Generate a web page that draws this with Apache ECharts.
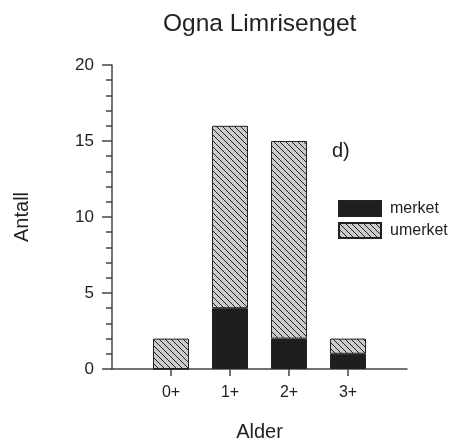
<!DOCTYPE html>
<html>
<head>
<meta charset="utf-8">
<script src="https://cdn.jsdelivr.net/npm/echarts@6/dist/echarts.min.js"></script>
<style>html,body{margin:0;padding:0;background:#fff}#c{width:458px;height:443px}</style>
</head>
<body>
<div id="c"></div>
<script>
var categories = ['0+', '1+', '2+', '3+'];
var merket = [0, 4, 2, 1];
var umerket = [2, 12, 13, 1];
var yTicks = [0, 5, 10, 15, 20];
var titleText = 'Ogna Limrisenget';
var panelLabel = 'd)';

function hatch() {
  var c = document.createElement('canvas');
  c.width = 6; c.height = 6;
  var g = c.getContext('2d');
  g.fillStyle = '#cbcbcb';
  g.fillRect(0, 0, 6, 6);
  g.strokeStyle = '#222';
  g.lineWidth = 1;
  g.beginPath();
  g.moveTo(-1, -1); g.lineTo(7, 7);
  g.moveTo(-1, 5); g.lineTo(1, 7);
  g.moveTo(5, -1); g.lineTo(7, 1);
  g.stroke();
  return c;
}

var font = 'Liberation Sans, Arial, Helvetica, sans-serif';
var chart = echarts.init(document.getElementById('c'), null, {renderer: 'canvas'});
// padded category list: one empty slot on each side so the axis runs past the bars
var axisCats = [''].concat(categories).concat(['']);
function pad(arr) { return [null].concat(arr).concat([null]); }

chart.setOption({
  animation: false,
  textStyle: {fontFamily: font},
  grid: {left: 112, right: 51, top: 65, bottom: 74, containLabel: false, outerBoundsMode: 'none'},
  graphic: [
    {type: 'text', left: 163, top: 12, style: {text: titleText, font: '24.5px ' + font, fill: '#222'}},
    {type: 'text', left: 332, top: 141, style: {text: panelLabel, font: '20px ' + font, fill: '#222'}}
  ],
  legend: {
    orient: 'vertical', left: 338, top: 200, padding: 0, itemWidth: 42, itemHeight: 15, itemGap: 5,
    icon: 'rect',
    textStyle: {fontSize: 16, color: '#222', fontFamily: font, padding: [0, 0, 0, 4]},
    data: ['merket', 'umerket']
  },
  xAxis: {
    type: 'category', data: axisCats, boundaryGap: false,
    name: 'Alder', nameLocation: 'middle', nameGap: 53,
    nameTextStyle: {fontSize: 20, color: '#222', fontFamily: font},
    axisLine: {show: true, lineStyle: {color: '#444', width: 1.5}},
    axisTick: {show: true, length: 7, lineStyle: {color: '#444', width: 1.5},
      interval: function (i, v) { return v !== ''; }},
    axisLabel: {fontSize: 16, color: '#222', margin: 16, fontFamily: font, interval: 0},
    splitLine: {show: false}
  },
  yAxis: {
    type: 'value', min: 0, max: 20, interval: 5,
    name: 'Antall', nameLocation: 'middle', nameRotate: 90, nameGap: 80,
    nameTextStyle: {fontSize: 20, color: '#222', fontFamily: font},
    axisLine: {show: true, onZero: false, lineStyle: {color: '#444', width: 1.5}},
    axisTick: {show: true, length: 10, lineStyle: {color: '#444', width: 1.5}},
    minorTick: {show: true, splitNumber: 5, length: 6, lineStyle: {color: '#444', width: 1.5}},
    axisLabel: {
      fontSize: 17, color: '#222', margin: 18, fontFamily: font,
      formatter: function (v) { return yTicks.indexOf(v) >= 0 ? String(v) : ''; }
    },
    splitLine: {show: false}
  },
  series: [
    {
      name: 'merket', type: 'bar', stack: 'a', barWidth: 36,
      itemStyle: {color: '#1e1e1e', borderColor: '#222', borderWidth: 1},
      data: pad(merket)
    },
    {
      name: 'umerket', type: 'bar', stack: 'a', barWidth: 36,
      itemStyle: {color: {image: hatch(), repeat: 'repeat'}, borderColor: '#222', borderWidth: 1},
      data: pad(umerket)
    }
  ]
});
</script>
</body>
</html>
